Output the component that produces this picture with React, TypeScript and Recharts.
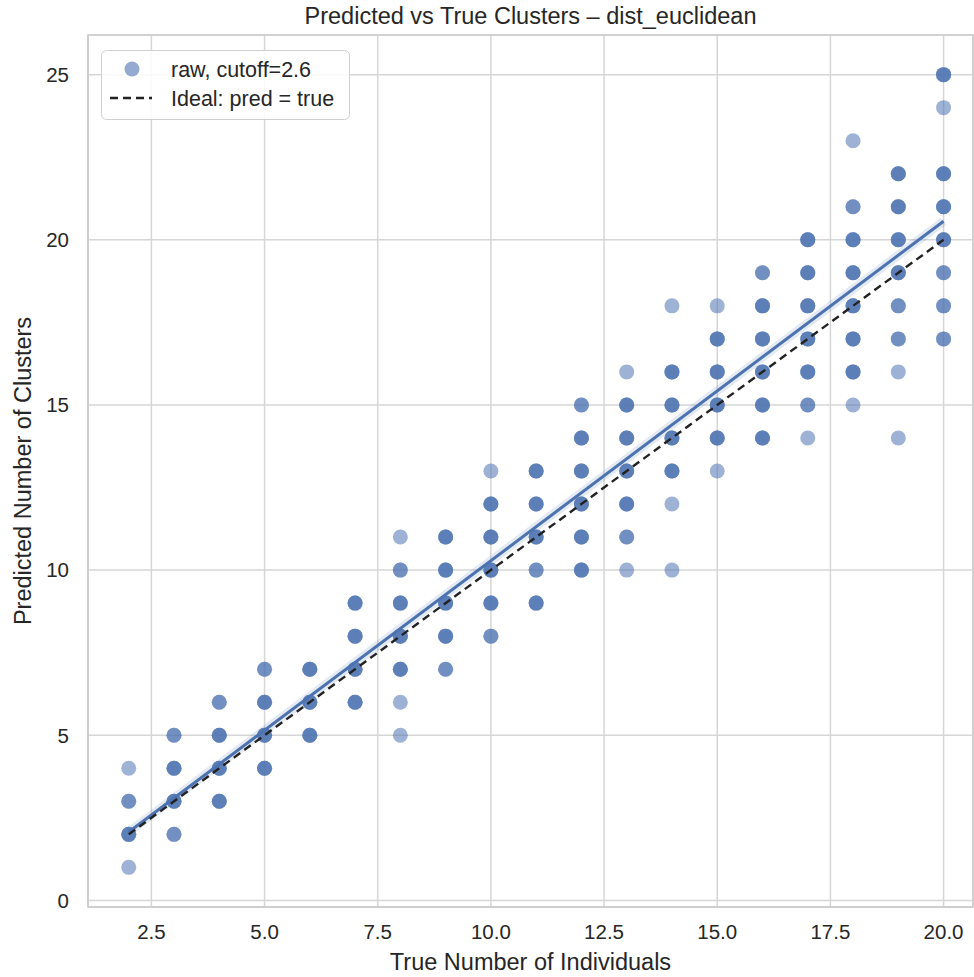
import React from "react";
import {
  ScatterChart, Scatter, XAxis, YAxis, CartesianGrid, ReferenceArea,
} from "recharts";

// true number of individuals (x), one column of predictions per value
const trueN = [2, 3, 4, 5, 6, 7, 8, 9, 10, 11, 12, 13, 14, 15, 16, 17, 18, 19, 20];

// predicted cluster counts per column; repeated values = overlapping runs
const predCols = [
  [4, 3, 3, 2, 2, 2, 1],
  [5, 5, 4, 4, 4, 3, 3, 3, 2, 2],
  [6, 6, 5, 5, 5, 4, 4, 4, 3, 3, 3],
  [7, 7, 6, 6, 6, 5, 5, 5, 4, 4, 4],
  [7, 7, 7, 6, 6, 6, 5, 5, 5],
  [9, 9, 9, 8, 8, 8, 7, 7, 7, 6, 6, 6],
  [11, 10, 10, 9, 9, 9, 8, 8, 8, 7, 7, 7, 6, 5],
  [11, 11, 11, 10, 10, 10, 9, 9, 9, 8, 8, 8, 7, 7],
  [13, 12, 12, 12, 11, 11, 11, 10, 10, 10, 9, 9, 9, 8, 8],
  [13, 13, 13, 12, 12, 12, 11, 11, 11, 10, 10, 9, 9, 9],
  [15, 15, 14, 14, 14, 13, 13, 13, 12, 12, 12, 11, 11, 11, 10, 10, 10],
  [16, 15, 15, 15, 14, 14, 14, 13, 13, 13, 12, 12, 12, 11, 11, 10],
  [18, 16, 16, 16, 15, 15, 15, 14, 14, 14, 13, 13, 13, 12, 10],
  [18, 17, 17, 17, 16, 16, 16, 15, 15, 15, 14, 14, 14, 13],
  [19, 19, 18, 18, 18, 17, 17, 17, 16, 16, 16, 15, 15, 15, 14, 14, 14],
  [20, 20, 20, 19, 19, 19, 18, 18, 18, 17, 17, 17, 16, 16, 16, 15, 15, 14],
  [23, 21, 21, 20, 20, 20, 19, 19, 19, 18, 18, 18, 17, 17, 17, 16, 16, 16, 15],
  [22, 22, 22, 21, 21, 21, 20, 20, 20, 19, 19, 19, 18, 18, 17, 17, 16, 14],
  [25, 25, 25, 24, 22, 22, 22, 21, 21, 21, 20, 20, 20, 19, 19, 18, 18, 17, 17],
];

// fitted regression line endpoints
const regX = [2, 20];
const regY = [2.07, 20.56];

// ideal line pred = true
const idealX = [2, 20];
const idealY = [2, 20];

const xTicks = [2.5, 5, 7.5, 10, 12.5, 15, 17.5, 20];
const yTicks = [0, 5, 10, 15, 20, 25];

const points = trueN.flatMap((t, i) => predCols[i].map((p) => ({ x: t, y: p })));
const regLine = regX.map((x, i) => ({ x, y: regY[i] }));
const idealLine = idealX.map((x, i) => ({ x, y: idealY[i] }));

const BLUE = "#4c72b0";
const FONT = "'Liberation Sans', Arial, sans-serif";
const TXT = "#262626";

const Dot = (props: any) => (
  <circle cx={props.cx} cy={props.cy} r={7.5} fill={BLUE} fillOpacity={0.55} />
);
const NoDot = () => <g />;

const LegendBox = () => (
  <svg width={250} height={72} style={{ display: "block" }}>
    <rect x={0.5} y={0.5} width={248} height={69} rx={5} fill="#fff" fillOpacity={0.85} stroke="#d0d0d0" />
    <circle cx={31} cy={19} r={7.5} fill={BLUE} fillOpacity={0.6} />
    <text x={70} y={26.5} fontSize={21.5} fill={TXT} fontFamily={FONT}>raw, cutoff=2.6</text>
    <line x1={9} y1={48} x2={51} y2={48} stroke="#222" strokeWidth={2.4} strokeDasharray="8 5" />
    <text x={70} y={56} fontSize={21.5} fill={TXT} fontFamily={FONT}>Ideal: pred = true</text>
  </svg>
);

const YLabel = (props: any) => {
  const { viewBox } = props;
  const cx = 23;
  const cy = viewBox.y + viewBox.height / 2;
  return (
    <text x={cx} y={cy} transform={`rotate(-90, ${cx}, ${cy})`} textAnchor="middle"
      dominantBaseline="central" fontSize={23.5} fill={TXT} fontFamily={FONT}>
      Predicted Number of Clusters
    </text>
  );
};

export default function App() {
  return (
    <div style={{ position: "absolute", left: 0, top: 0, width: 974, height: 977, background: "#fff", fontFamily: FONT }}>
      <div style={{ position: "absolute", left: 88, width: 885, top: 3, textAlign: "center", fontSize: 23.5, color: TXT }}>
        Predicted vs True Clusters – dist_euclidean
      </div>
      <ScatterChart width={974} height={977} margin={{ top: 35, right: 1, bottom: 0, left: 0 }}>
        <CartesianGrid stroke="#d6d6d6" strokeWidth={1.5} />
        <XAxis type="number" dataKey="x" domain={[1.1, 20.65]} ticks={xTicks} allowDataOverflow
          tickFormatter={(v: number) => v.toFixed(1)} height={70} tickLine={false} tickSize={0} tickMargin={17}
          axisLine={{ stroke: "#cccccc", strokeWidth: 1.5 }}
          tick={{ fill: TXT, fontSize: 20.5, fontFamily: FONT }}
          label={{ value: "True Number of Individuals", position: "insideBottom", offset: 7, fill: TXT, fontSize: 23.5, fontFamily: FONT }} />
        <YAxis type="number" dataKey="y" domain={[-0.2, 26.2]} ticks={yTicks} allowDataOverflow width={88}
          tickLine={false} tickSize={0} tickMargin={19}
          axisLine={{ stroke: "#cccccc", strokeWidth: 1.5 }}
          tick={{ fill: TXT, fontSize: 20.5, fontFamily: FONT }}
          label={<YLabel />} />
        <ReferenceArea x1={1.1} x2={20.65} y1={-0.2} y2={26.2} fill="none" stroke="#cccccc" strokeWidth={1.5} ifOverflow="visible" />
        <Scatter data={points} shape={<Dot />} isAnimationActive={false} />
        <Scatter data={regLine} line={{ stroke: BLUE, strokeWidth: 9, strokeOpacity: 0.15 }} shape={<NoDot />} isAnimationActive={false} />
        <Scatter data={regLine} line={{ stroke: BLUE, strokeWidth: 3 }} shape={<NoDot />} isAnimationActive={false} />
        <Scatter data={idealLine} line={{ stroke: "#222", strokeWidth: 2.4, strokeDasharray: "8 5" }} shape={<NoDot />} isAnimationActive={false} />
      </ScatterChart>
      <div style={{ position: "absolute", left: 101, top: 50 }}>
        <LegendBox />
      </div>
    </div>
  );
}
